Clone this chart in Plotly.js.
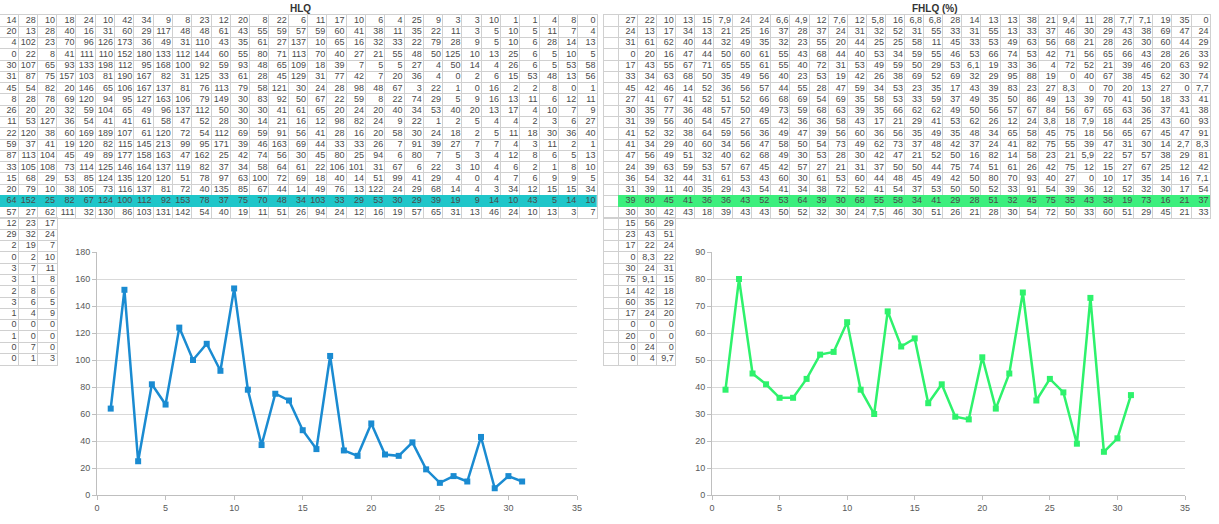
<!DOCTYPE html>
<html>
<head>
<meta charset="utf-8">
<script src="https://cdn.plot.ly/plotly-3.0.1.min.js"></script>
<style>html,body{margin:0;padding:0;background:#fff;}#chart{width:1219px;height:524px;}</style>
</head>
<body>
<div id="chart"></div>
<script>
// ---------- DATA ----------
const cycles = [1,2,3,4,5,6,7,8,9,10,11,12,13,14,15,16,17,18,19,20,21,22,23,24,25,26,27,28,29,30,31];
const hlqValues  = [64,152,25,82,67,124,100,112,92,153,78,37,75,70,48,34,103,33,29,53,30,29,39,19,9,14,10,43,5,14,10];
const fhlqValues = [39,80,45,41,36,36,43,52,53,64,39,30,68,55,58,34,41,29,28,51,32,45,75,35,43,38,19,73,16,21,37];
const hlqTitle = 'HLQ';
const fhlqTitle = 'FHLQ (%)';
const hlqYTicks = [0,20,40,60,80,100,120,140,160,180];
const fhlqYTicks = [0,10,20,30,40,50,60,70,80,90];
const xTicks = [0,5,10,15,20,25,30,35];

const hlqRowsBefore = [
 [14,28,10,18,24,10,42,34,9,8,23,12,20,8,22,6,11,17,10,6,4,25,9,3,3,10,1,1,4,8,0],
 [20,13,28,40,16,31,60,29,117,48,48,61,43,55,59,57,59,60,41,38,11,35,22,11,3,5,10,5,11,7,4],
 [4,102,23,70,96,126,173,36,49,31,110,43,35,61,27,137,10,65,16,32,33,22,79,28,9,5,10,6,28,14,13],
 [0,22,8,41,111,110,152,180,133,112,144,60,55,80,71,113,70,40,27,21,55,48,50,125,10,13,25,6,5,10,5],
 [30,107,65,93,133,198,112,95,168,100,92,59,93,48,65,109,18,39,7,5,5,27,4,50,14,4,26,6,5,53,58],
 [31,87,75,157,103,81,190,167,82,31,125,33,61,28,45,129,31,77,42,7,20,36,4,0,2,6,15,53,48,13,56],
 [45,54,82,20,146,65,106,167,137,81,76,113,79,58,121,30,24,28,98,48,67,3,22,1,0,16,2,2,8,0,1],
 [8,28,78,69,120,94,95,127,163,106,79,149,30,83,92,50,67,22,59,8,22,74,29,5,9,16,13,11,6,12,11],
 [26,20,20,32,59,104,65,49,96,137,112,50,30,30,41,61,65,20,24,20,40,34,53,40,20,13,17,4,10,7,9],
 [11,53,127,36,54,41,41,61,58,47,52,28,30,14,21,16,12,98,82,24,9,22,1,2,5,4,4,2,3,6,27],
 [22,120,38,60,169,189,107,61,120,72,54,112,69,59,91,56,41,28,16,20,58,30,24,18,2,5,11,18,30,36,40],
 [59,37,41,19,120,82,115,145,213,99,95,171,39,46,163,69,44,33,33,26,7,91,39,27,7,7,4,3,11,2,1],
 [87,113,104,45,49,89,177,158,163,47,162,25,42,74,56,30,45,80,25,94,6,80,7,5,3,4,12,8,6,5,13],
 [33,105,108,73,114,125,146,164,137,119,82,37,34,58,64,61,22,106,101,31,67,6,22,3,10,4,6,2,1,8,10],
 [15,68,29,53,85,124,135,120,120,51,78,97,63,100,72,69,18,40,14,51,99,41,29,4,0,4,7,6,9,9,5],
 [20,79,10,38,105,73,116,137,81,72,40,135,85,67,44,14,49,76,13,122,24,29,68,14,4,3,34,12,15,15,34]
];
const hlqRowAfter = [57,27,62,111,32,130,86,103,131,142,54,40,19,11,51,26,94,24,12,16,19,57,65,31,13,46,24,10,13,3,7];
const hlqExtra = [[12,23,17],[29,32,24],[2,19,7],[0,2,10],[3,7,11],[3,1,8],[2,8,6],[3,6,5],[1,4,9],[0,0,0],[1,0,0],[0,7,0],[0,1,3]];

const fhlqRowsBefore = [
 [27,22,10,13,15,7.9,24,24,6.6,4.9,12,7.6,12,5.8,16,6.8,6.8,28,14,13,13,38,21,9.4,11,28,7.7,7.1,19,35,0],
 [24,13,17,34,13,21,25,16,37,28,37,24,31,32,52,31,55,33,31,55,13,33,37,46,30,29,43,38,69,47,24],
 [31,61,62,40,44,32,49,35,32,23,55,20,44,25,25,58,11,45,33,53,49,63,56,68,21,28,26,30,60,44,29],
 [0,20,16,47,44,50,60,61,55,43,68,44,40,53,34,59,55,46,53,66,74,53,42,71,56,65,66,43,28,26,33],
 [17,43,55,67,71,65,55,61,55,40,72,31,53,49,59,50,29,53,6.1,19,33,36,4,72,52,21,39,46,20,63,92],
 [33,34,63,68,50,35,49,56,40,23,53,19,42,26,38,69,52,69,32,29,95,88,19,0,40,67,38,45,62,30,74],
 [45,42,46,14,52,36,56,57,44,55,28,47,59,34,53,23,35,17,43,39,83,23,27,8.3,0,70,20,13,27,0,7.7],
 [27,41,67,41,52,51,52,66,68,69,54,69,35,58,53,33,59,37,49,35,50,86,49,13,39,70,41,50,18,33,41],
 [30,35,77,36,48,57,50,49,73,59,68,63,39,35,66,62,62,49,50,56,57,67,84,56,67,65,63,36,37,41,38],
 [31,39,56,40,54,45,27,65,42,36,36,58,43,17,21,29,41,53,62,26,12,24,3.8,18,7.9,18,44,25,43,60,93],
 [41,52,32,38,64,59,56,36,49,47,39,56,60,36,56,35,49,35,48,34,65,58,45,75,18,56,65,67,45,47,91],
 [41,34,29,40,60,34,56,47,58,50,54,73,49,62,73,37,48,42,37,24,41,82,75,55,39,47,31,30,14,2.7,8.3],
 [47,56,49,51,32,40,62,68,49,30,53,28,30,42,47,21,52,50,16,82,14,58,23,21,5.9,22,57,57,38,29,81],
 [24,39,63,59,53,57,67,45,42,57,27,21,31,37,50,50,44,75,74,51,61,26,42,75,12,15,27,67,25,12,42],
 [36,54,32,44,31,61,53,43,60,30,61,53,60,44,48,45,49,42,50,80,70,93,40,27,0,10,17,35,14,16,7.1],
 [31,39,11,40,35,29,43,54,41,34,38,72,52,41,54,37,53,50,50,52,33,91,54,39,36,12,52,32,30,17,54]
];
const fhlqRowAfter = [30,30,42,43,18,39,43,43,50,52,32,30,24,7.5,46,30,51,26,21,28,30,54,72,50,33,60,51,29,45,21,33];
const fhlqExtra = [[15,56,29],[23,43,51],[17,22,24],[0,8.3,22],[30,24,31],[75,9.1,15],[14,42,18],[60,35,12],[17,24,20],[0,0,0],[20,0,0],[0,24,0],[0,4,9.7]];

// ---------- STYLE / GEOMETRY ----------
const W = 1219, H = 524;
const FONT = 'Liberation Sans, Arial, sans-serif';
const GRID = '#d0d0d0';
const TXT = '#4a4a4a';
const ROWH = 11.28, TOP = 15;
const hlqColor = '#1a8bd1', fhlqColor = '#2ef26c';
const hlqHi = '#1fc6c9', fhlqHi = '#3cef7d';

const fx = px => px / W;
const fy = py => 1 - py / H;
const fmt = v => String(v).replace('.', ',');

const mainTop = TOP, mainBot = TOP + 18 * ROWH, extraBot = mainBot + 13 * ROWH;

const traces = [];
const layout = {
  width: W, height: H, margin: {l:0,r:0,t:0,b:0,pad:0},
  paper_bgcolor: '#ffffff', plot_bgcolor: '#ffffff', showlegend: false,
  font: {family: FONT, size: 9, color: TXT},
  annotations: []
};

function tableAxes(xn, yn, xr, xd, nRows, yd) {
  layout['xaxis' + xn] = {
    domain: xd, range: xr, anchor: 'y' + yn, tickmode: 'linear', tick0: 0.5, dtick: 1,
    showticklabels: false, ticks: '', showgrid: true, gridcolor: GRID, gridwidth: 1,
    zeroline: false, showline: true, mirror: true, linecolor: GRID, linewidth: 1, fixedrange: true
  };
  layout['yaxis' + yn] = {
    domain: yd, range: [nRows - 0.5, -0.5], anchor: 'x' + xn, tickmode: 'linear', tick0: 0.5, dtick: 1,
    showticklabels: false, ticks: '', showgrid: true, gridcolor: GRID, gridwidth: 1,
    zeroline: false, showline: true, mirror: true, linecolor: GRID, linewidth: 1, fixedrange: true
  };
}

function tableTraces(rows, xn, yn, hiRow, hiColor, colW) {
  if (hiRow !== null) {
    const z = rows.map((r, i) => r.map(() => (i === hiRow ? 1 : null)));
    traces.push({
      type: 'heatmap', xaxis: 'x' + xn, yaxis: 'y' + yn,
      x: rows[0].map((_, c) => c + 1), y: rows.map((_, i) => i), z: z,
      zmin: 0, zmax: 1, colorscale: [[0, hiColor], [1, hiColor]], showscale: false, hoverinfo: 'skip'
    });
  }
  const xs = [], ys = [], ts = [];
  const off = 0.5 - 1.5 / colW;
  rows.forEach((r, i) => r.forEach((v, c) => { xs.push(c + 1 + off); ys.push(i); ts.push(fmt(v)); }));
  traces.push({
    type: 'scatter', mode: 'text', xaxis: 'x' + xn, yaxis: 'y' + yn,
    x: xs, y: ys, text: ts, textposition: 'middle left',
    textfont: {family: FONT, size: 9, color: TXT}, hoverinfo: 'skip', cliponaxis: false
  });
}

// Left table (HLQ): column width 19.3 px, first column partly cut at page edge
const LW = 19.3;
const hlqMain = hlqRowsBefore.concat([hlqValues, hlqRowAfter]);
const lStart = 0.5 + 1.3 / LW;
tableAxes(3, 3, [lStart, 31.5], [0, fx((31.5 - lStart) * LW)], 18, [fy(mainBot), fy(mainTop)]);
tableTraces(hlqMain, 3, 3, 16, hlqHi, LW);
tableAxes(4, 4, [lStart, 3.5], [0, fx((3.5 - lStart) * LW)], 13, [fy(extraBot), fy(mainBot)]);
tableTraces(hlqExtra, 4, 4, null, null, LW);

// Right table (FHLQ): column width 19.1 px, with an empty spreadsheet column before it
const RW = 19.1, R0 = 604;
const fhlqMain = fhlqRowsBefore.concat([fhlqValues, fhlqRowAfter]);
const rStart = 0.5 - 14 / RW;
tableAxes(5, 5, [rStart, 31.5], [fx(R0), fx(R0 + (31.5 - rStart) * RW)], 18, [fy(mainBot), fy(mainTop)]);
tableTraces(fhlqMain, 5, 5, 16, fhlqHi, RW);
tableAxes(6, 6, [rStart, 3.5], [fx(R0), fx(R0 + (3.5 - rStart) * RW)], 13, [fy(extraBot), fy(mainBot)]);
tableTraces(fhlqExtra, 6, 6, null, null, RW);

// Titles
layout.annotations.push({xref: 'paper', yref: 'paper', x: fx(300), y: fy(8), text: '<b>' + hlqTitle + '</b>',
  showarrow: false, font: {family: FONT, size: 10, color: '#333'}, xanchor: 'center', yanchor: 'middle'});
layout.annotations.push({xref: 'paper', yref: 'paper', x: fx(935), y: fy(8), text: '<b>' + fhlqTitle + '</b>',
  showarrow: false, font: {family: FONT, size: 10, color: '#333'}, xanchor: 'center', yanchor: 'middle'});

// Charts
function chartAxes(xn, yn, xd, yTicks) {
  const base = {showline: true, linecolor: '#bfbfbf', linewidth: 1, ticks: 'outside', ticklen: 4,
    tickcolor: '#bfbfbf', tickfont: {family: FONT, size: 9, color: '#595959'}, zeroline: false, fixedrange: true};
  layout['xaxis' + xn] = Object.assign({}, base, {domain: xd, anchor: 'y' + yn,
    range: [xTicks[0], xTicks[xTicks.length - 1]], tickvals: xTicks, showgrid: false});
  layout['yaxis' + yn] = Object.assign({}, base, {domain: [fy(495), fy(252)], anchor: 'x' + xn,
    range: [yTicks[0], yTicks[yTicks.length - 1]], tickvals: yTicks, showgrid: true, gridcolor: '#d9d9d9'});
}
chartAxes('', '', [fx(97), fx(577)], hlqYTicks);
chartAxes(2, 2, [fx(712), fx(1185)], fhlqYTicks);

traces.push({type: 'scatter', mode: 'lines+markers', xaxis: 'x', yaxis: 'y', x: cycles, y: hlqValues,
  line: {color: hlqColor, width: 2.5}, marker: {symbol: 'square', size: 6, color: hlqColor}, cliponaxis: false});
traces.push({type: 'scatter', mode: 'lines+markers', xaxis: 'x2', yaxis: 'y2', x: cycles, y: fhlqValues,
  line: {color: fhlqColor, width: 2.5}, marker: {symbol: 'square', size: 6, color: fhlqColor}, cliponaxis: false});

Plotly.newPlot('chart', traces, layout, {displayModeBar: false, staticPlot: true});
</script>
</body>
</html>
